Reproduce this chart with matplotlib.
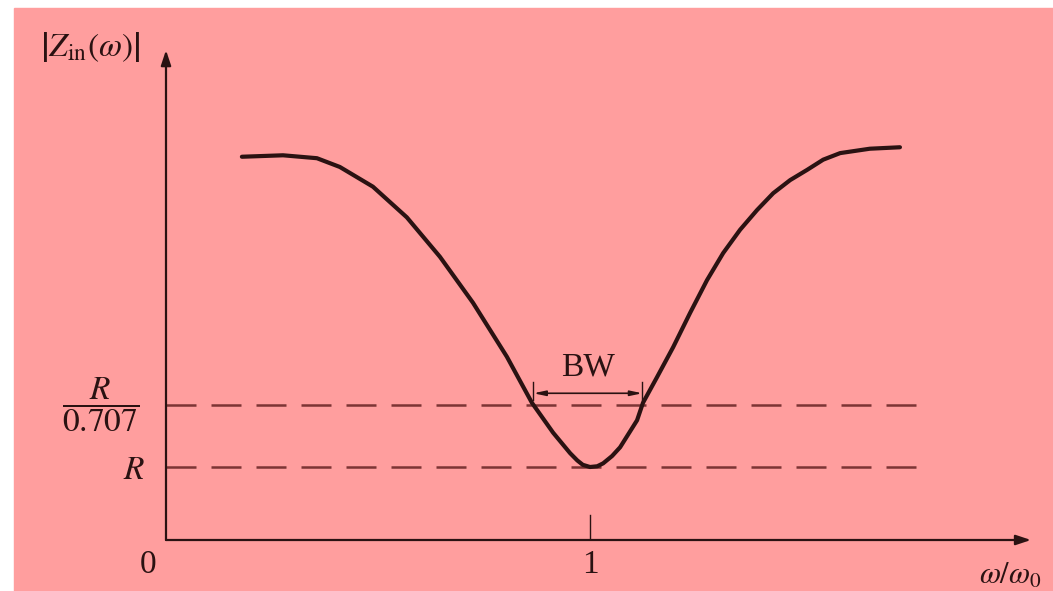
import numpy as np
import matplotlib
matplotlib.use("Agg")
import matplotlib.pyplot as plt
from matplotlib.patches import Rectangle

plt.rcParams['font.family'] = ['Liberation Serif', 'DejaVu Serif']
plt.rcParams['mathtext.fontset'] = 'stix'

# ---- data (x in w/w0, y in units of R) ----
w_ratio = [0.179, 0.276, 0.356, 0.410, 0.488, 0.568, 0.646, 0.724, 0.804,
           0.863, 0.913, 0.953, 0.970, 0.983, 1.000, 1.017, 1.031, 1.052,
           1.071, 1.111, 1.125, 1.158, 1.196, 1.236, 1.276, 1.314, 1.354,
           1.394, 1.432, 1.472, 1.512, 1.550, 1.590, 1.660, 1.731]
z_mag = [5.25, 5.27, 5.23, 5.11, 4.84, 4.42, 3.88, 3.25, 2.51,
         1.88, 1.47, 1.19, 1.09, 1.03, 1.00, 1.01, 1.05, 1.15,
         1.27, 1.64, 1.88, 2.23, 2.64, 3.11, 3.56, 3.93, 4.25,
         4.52, 4.75, 4.93, 5.07, 5.21, 5.30, 5.36, 5.38]
r_level = 1.0
half_power = 1.85          # drawn level of R/0.707 (not to scale in the sketch)
line_end = 1.77
x_ticks = [1]

ink = '#2a1212'
dash_col = '#7c3434'
pink = '#ff9e9e'

fig = plt.figure(figsize=(10.53, 5.91), dpi=100)
fig.patches.append(Rectangle((14 / 1053, 0), 1, (591 - 8) / 591,
                             transform=fig.transFigure, color=pink, zorder=-10))

X, Y = 2.05, 6.8
ax = fig.add_axes([166 / 1053, 51 / 591, X * 424 / 1053, Y * 73 / 591])
ax.set_xlim(0, X)
ax.set_ylim(0, Y)
ax.axis('off')

# axes with arrows
arw = dict(arrowstyle='-|>,head_length=0.9,head_width=0.3', color=ink, lw=1.6,
           shrinkA=0, shrinkB=0)
ax.annotate('', xy=(2.04, 0), xytext=(0, 0), arrowprops=arw, annotation_clip=False)
ax.annotate('', xy=(0, 6.71), xytext=(0, 0), arrowprops=arw, annotation_clip=False)

# dashed reference levels
for lvl in (r_level, half_power):
    ax.plot([0, line_end], [lvl, lvl], color=dash_col, lw=1.8,
            dashes=(12, 6), solid_capstyle='butt')

# impedance curve
ax.plot(w_ratio, z_mag, color=ink, lw=3.0, solid_capstyle='round',
        solid_joinstyle='round')

# tick at resonance
for t in x_ticks:
    ax.plot([t, t], [0, 0.34], color=ink, lw=1.0)
    ax.text(t, -0.34, str(t), ha='center', va='center', fontsize=24, color=ink)

# bandwidth marker from the half-power crossings
i_min = int(np.argmin(z_mag))
w_arr = np.array(w_ratio)
z_arr = np.array(z_mag)
x_lo = np.interp(half_power, z_arr[:i_min + 1][::-1], w_arr[:i_min + 1][::-1])
x_hi = np.interp(half_power, z_arr[i_min:], w_arr[i_min:])
y_bw = 2.01
ax.annotate('', xy=(x_lo, y_bw), xytext=(x_hi, y_bw),
            arrowprops=dict(arrowstyle='<|-|>,head_length=0.7,head_width=0.15',
                            color=ink, lw=1.2, shrinkA=0, shrinkB=0))
for xe in (x_lo, x_hi):
    ax.plot([xe, xe], [1.92, 2.16], color=ink, lw=1.0)
ax.text((x_lo + x_hi) / 2, 2.37, 'BW', ha='center', va='center',
        fontsize=24, color=ink)

# labels
ax.text(-0.18, 6.75, r'$\left|Z_{\mathrm{in}}(\omega)\right|$', ha='center',
        va='center', fontsize=24, color=ink, clip_on=False)
ax.text(-0.155, half_power, r'$\dfrac{R}{0.707}$', ha='center', va='center',
        fontsize=24, color=ink, clip_on=False)
ax.text(-0.05, r_level - 0.05, r'$R$', ha='right', va='center', fontsize=24,
        color=ink, clip_on=False)
ax.text(-0.042, -0.34, '0', ha='center', va='center', fontsize=24, color=ink,
        clip_on=False)
ax.text(1.99, -0.5, r'$\omega/\omega_0$', ha='center', va='center', fontsize=22,
        color=ink, clip_on=False)

fig.savefig('out.png', dpi=100)
